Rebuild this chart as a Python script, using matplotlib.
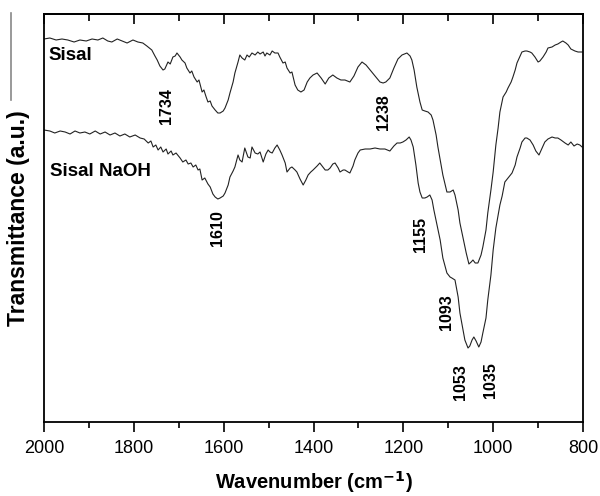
import matplotlib
matplotlib.use("Agg")
import matplotlib.pyplot as plt
from matplotlib.ticker import MultipleLocator

plt.rcParams['font.family'] = ['Liberation Sans', 'DejaVu Sans']

# Sisal (untreated) spectrum: wavenumber (cm-1) and transmittance (a.u.)
sisal_wn = [2000, 1987, 1973, 1960, 1947, 1933, 1920, 1906, 1893, 1880, 1869, 1858, 1849, 1837,
            1826, 1815, 1802, 1791, 1780, 1771, 1760, 1753, 1748, 1742, 1735, 1731, 1724, 1719,
            1713, 1708, 1704, 1697, 1693, 1686, 1682, 1675, 1671, 1666, 1659, 1655, 1648, 1644,
            1639, 1635, 1630, 1626, 1619, 1613, 1608, 1601, 1597, 1590, 1586, 1579, 1575, 1568,
            1564, 1559, 1553, 1548, 1543, 1537, 1530, 1524, 1519, 1512, 1508, 1504, 1497, 1492,
            1486, 1479, 1475, 1468, 1463, 1459, 1452, 1448, 1441, 1435, 1428, 1421, 1414, 1408,
            1401, 1392, 1383, 1374, 1366, 1357, 1348, 1339, 1330, 1319, 1310, 1301, 1292, 1283,
            1274, 1263, 1252, 1245, 1239, 1230, 1221, 1212, 1203, 1192, 1185, 1181, 1176, 1170,
            1163, 1158, 1152, 1145, 1138, 1134, 1127, 1123, 1118, 1112, 1103, 1096, 1089, 1085,
            1078, 1074, 1067, 1060, 1054, 1049, 1045, 1040, 1034, 1027, 1023, 1016, 1012, 1005,
            1000, 994, 989, 985, 978, 971, 967, 960, 956, 951, 947, 940, 936, 929, 925, 918, 914,
            907, 900, 896, 889, 882, 878, 869, 862, 856, 849, 845, 838, 833, 827, 818, 811, 802]
sisal_t = [383, 384, 382, 383, 382, 380, 382, 381, 383, 382, 384, 381, 380, 383,
           381, 379, 382, 380, 379, 376, 372, 366, 362, 356, 352, 353, 360, 358,
           365, 366, 369, 365, 362, 359, 354, 349, 351, 345, 340, 342, 330, 332,
           325, 320, 321, 316, 312, 309, 309, 311, 314, 322, 329, 340, 349, 360,
           367, 364, 362, 367, 365, 369, 367, 370, 368, 370, 366, 369, 367, 371,
           369, 369, 365, 359, 360, 354, 349, 350, 337, 332, 330, 332, 340, 344,
           347, 349, 344, 338, 344, 347, 344, 342, 342, 340, 346, 355, 360, 357,
           352, 346, 340, 339, 340, 344, 354, 363, 367, 369, 366, 362, 352, 335,
           320, 312, 311, 310, 307, 302, 287, 275, 262, 247, 230, 230, 232, 227,
           212, 199, 184, 169, 158, 160, 162, 159, 159, 167, 175, 192, 209, 232,
           250, 277, 294, 310, 325, 330, 334, 340, 345, 352, 359, 366, 370, 371, 371, 370, 369,
           365, 360, 361, 365, 370, 374, 375, 377, 378, 380, 381, 379, 377, 373, 371, 370, 370]

# Sisal NaOH (alkali treated) spectrum
naoh_wn = [2000, 1987, 1976, 1964, 1953, 1942, 1931, 1920, 1909, 1898, 1886, 1875, 1864, 1853,
           1842, 1831, 1820, 1809, 1797, 1786, 1777, 1768, 1762, 1757, 1751, 1746, 1740, 1735,
           1728, 1724, 1717, 1713, 1706, 1697, 1691, 1684, 1679, 1673, 1668, 1662, 1657, 1653,
           1648, 1642, 1635, 1630, 1624, 1619, 1613, 1608, 1601, 1597, 1590, 1586, 1579, 1575,
           1568, 1564, 1559, 1553, 1546, 1541, 1537, 1530, 1524, 1519, 1512, 1506, 1501, 1497,
           1492, 1486, 1481, 1475, 1470, 1463, 1459, 1452, 1448, 1441, 1437, 1430, 1423, 1417,
           1412, 1406, 1401, 1392, 1386, 1379, 1374, 1368, 1363, 1357, 1352, 1345, 1341, 1334,
           1330, 1323, 1319, 1312, 1308, 1301, 1296, 1285, 1274, 1263, 1252, 1241, 1230, 1221,
           1214, 1207, 1201, 1194, 1187, 1183, 1178, 1172, 1167, 1163, 1158, 1152, 1147, 1141,
           1136, 1132, 1125, 1118, 1112, 1103, 1096, 1092, 1085, 1078, 1074, 1067, 1063, 1056,
           1052, 1047, 1043, 1038, 1032, 1027, 1023, 1016, 1012, 1005, 1000, 994, 989, 985, 980,
           974, 967, 958, 951, 947, 940, 936, 929, 925, 918, 911, 905, 898, 891, 885, 878, 869,
           862, 856, 849, 840, 833, 827, 820, 813, 807, 802]
naoh_t = [292, 291, 289, 291, 290, 288, 291, 289, 290, 288, 291, 288, 290, 287,
          289, 286, 288, 285, 287, 284, 283, 279, 281, 275, 277, 272, 275, 270,
          273, 268, 271, 267, 269, 264, 260, 262, 258, 259, 255, 257, 252, 253,
          242, 244, 238, 235, 228, 225, 223, 224, 226, 229, 237, 245, 251, 255,
          267, 262, 260, 274, 265, 264, 275, 269, 268, 270, 260, 268, 272, 270,
          269, 274, 277, 272, 267, 259, 250, 254, 255, 252, 250, 243, 237, 242,
          247, 250, 252, 256, 259, 255, 252, 252, 254, 258, 259, 254, 250, 252,
          252, 250, 249, 256, 262, 269, 272, 273, 273, 274, 273, 273, 271, 276,
          279, 279, 280, 282, 285, 282, 275, 257, 239, 230, 224, 224, 225, 227,
          222, 212, 197, 182, 164, 149, 145, 144, 142, 125, 109, 92, 82, 74,
          76, 82, 85, 81, 75, 80, 89, 104, 122, 147, 172, 194, 207, 217, 226,
          240, 244, 249, 257, 265, 274, 280, 284, 284, 282, 277, 271, 267, 274, 280, 283, 285,
          284, 284, 282, 279, 277, 280, 276, 278, 277, 275]

peak_labels = ["1734", "1238", "1610", "1155", "1093", "1053", "1035"]
peak_x = [1728, 1245, 1613, 1161, 1105, 1072, 1005]
peak_y = [316, 310, 194, 188, 110, 40, 42]

series_names = ["Sisal", "Sisal NaOH"]
name_x = [1991, 1987]
name_y = [367, 250]

fig = plt.figure(figsize=(6.0, 4.96), dpi=100)
ax = fig.add_axes([44/600, 74/496, 539/600, 408/496])

ax.plot(sisal_wn, sisal_t, color='#222222', lw=0.8)
ax.plot(naoh_wn, naoh_t, color='#222222', lw=0.8)

ax.set_xlim(2000, 800)
ax.set_ylim(0, 408)

ax.xaxis.set_major_locator(MultipleLocator(200))
ax.xaxis.set_minor_locator(MultipleLocator(100))
ax.tick_params(axis='x', which='major', direction='out', length=7, width=1.2,
               labelsize=13, pad=6, top=False)
ax.tick_params(axis='x', which='minor', direction='out', length=4, width=1.2, top=False)
ax.set_yticks([])
for s in ax.spines.values():
    s.set_linewidth(1.3)

# inward ticks on the top axis
sec = ax.secondary_xaxis('top')
sec.xaxis.set_major_locator(MultipleLocator(200))
sec.xaxis.set_minor_locator(MultipleLocator(100))
sec.tick_params(axis='x', which='major', direction='in', length=7, width=1.2, labeltop=False)
sec.tick_params(axis='x', which='minor', direction='in', length=5, width=1.2)
sec.spines['top'].set_linewidth(1.3)

ax.set_xlabel('Wavenumber (cm$^{\\mathbf{-1}}$)', fontsize=14.5, fontweight='bold', labelpad=9)
ax.set_ylabel('Transmittance (a.u.)', fontsize=16.5, fontweight='bold', labelpad=10)

for lab, x, y in zip(peak_labels, peak_x, peak_y):
    ax.text(x, y, lab, rotation=90, ha='center', va='center', fontsize=11.5, fontweight='bold')
for lab, x, y in zip(series_names, name_x, name_y):
    ax.text(x, y, lab, ha='left', va='center', fontsize=13.5, fontweight='bold')

# thin gray stroke at the upper left of the figure
fig.add_artist(plt.Line2D([11/600, 11/600], [1 - 13/496, 1 - 100/496], color='#888888', lw=1.2))

fig.savefig('out.png', dpi=100)
